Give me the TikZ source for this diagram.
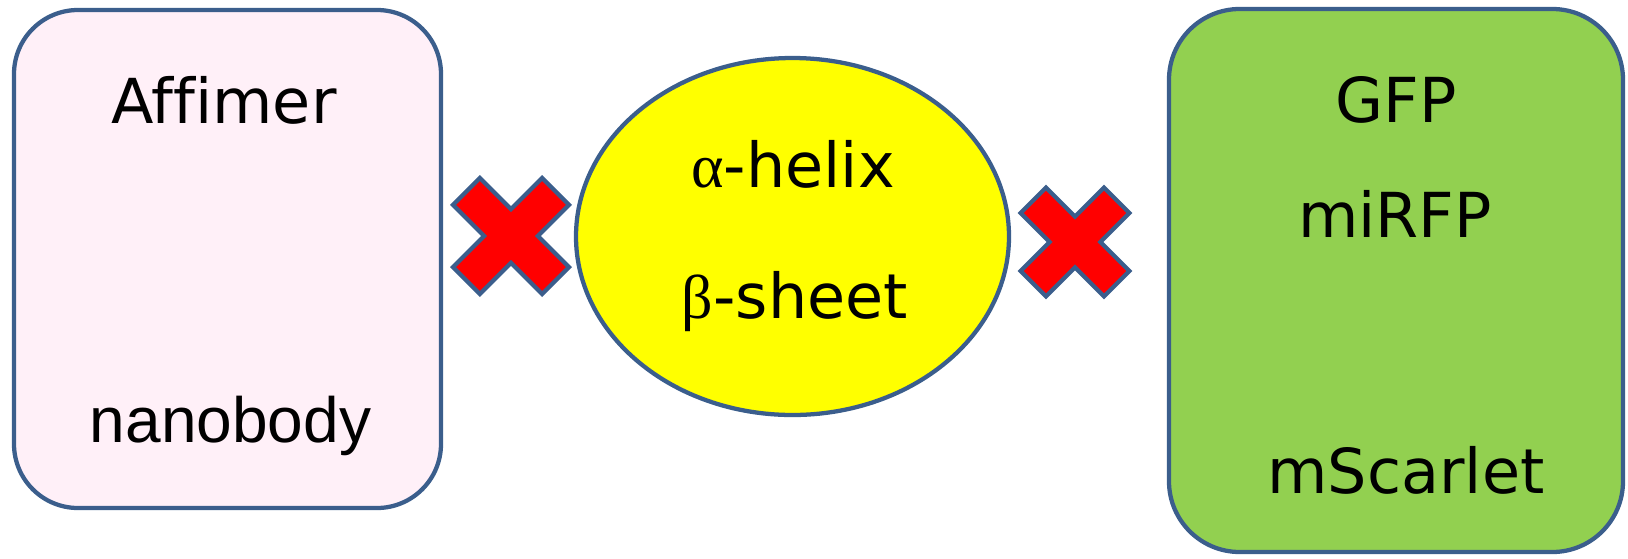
\documentclass[tikz,border=0pt]{standalone}
\usepackage{fontspec}
\setmainfont[Ligatures=NoCommon]{DejaVu Sans}
\newfontfamily\grk{Liberation Serif}
\newfontfamily\arialfont{Liberation Sans}
\definecolor{edgeblue}{HTML}{3B5E8C}
\definecolor{pinkfill}{HTML}{FFF0F8}
\definecolor{greenfill}{HTML}{92D050}
\definecolor{yellowfill}{HTML}{FFFF00}
\definecolor{redfill}{HTML}{FF0000}
\begin{document}
\begin{tikzpicture}[x=0.75pt,y=-0.75pt,
  outline/.style={draw=edgeblue,line width=3.2pt},
  label/.style={anchor=base,inner sep=0pt,font=\fontsize{46.5}{56}\selectfont},
  crossmark/.style={outline,fill=redfill,line width=3.2pt,line join=miter}]
\useasboundingbox (0,0) rectangle (1628,558);
% left box
\draw[outline,fill=pinkfill,rounded corners=48pt] (14,10) rectangle (441,508);
% ellipse
\draw[outline,fill=yellowfill] (792.5,236.5) ellipse [x radius=216.5, y radius=178.5];
% right box
\draw[outline,fill=greenfill,rounded corners=53pt] (1169,9) rectangle (1623,552);
% crosses
\begin{scope}[shift={(511,236)},rotate=45]
\def\w{19}\def\L{63}
\draw[crossmark] (\w,\w) -- (\L,\w) -- (\L,-\w) -- (\w,-\w) -- (\w,-\L) -- (-\w,-\L) -- (-\w,-\w) -- (-\L,-\w) -- (-\L,\w) -- (-\w,\w) -- (-\w,\L) -- (\w,\L) -- cycle;
\end{scope}
\begin{scope}[shift={(1075,242)},rotate=45]
\def\w{18}\def\L{59}
\draw[crossmark] (\w,\w) -- (\L,\w) -- (\L,-\w) -- (\w,-\w) -- (\w,-\L) -- (-\w,-\L) -- (-\w,-\w) -- (-\L,-\w) -- (-\L,\w) -- (-\w,\w) -- (-\w,\L) -- (\w,\L) -- cycle;
\end{scope}
% texts
\node[label] (affimer) at (224,123) {Affimer};
\node[label,font=\arialfont\fontsize{48}{56}\selectfont] (nanobody) at (230.5,442) {nanobody};
\node[label] (helix) at (793,187) {{\grk α}-helix};
\node[label] (sheet) at (795,318) {{\grk β}-sheet};
\node[label] (gfp) at (1396,122) {GFP};
\node[label] (mirfp) at (1395,237) {miRFP};
\node[label] (mscarlet) at (1406,493) {mScarlet};
\end{tikzpicture}
\end{document}
